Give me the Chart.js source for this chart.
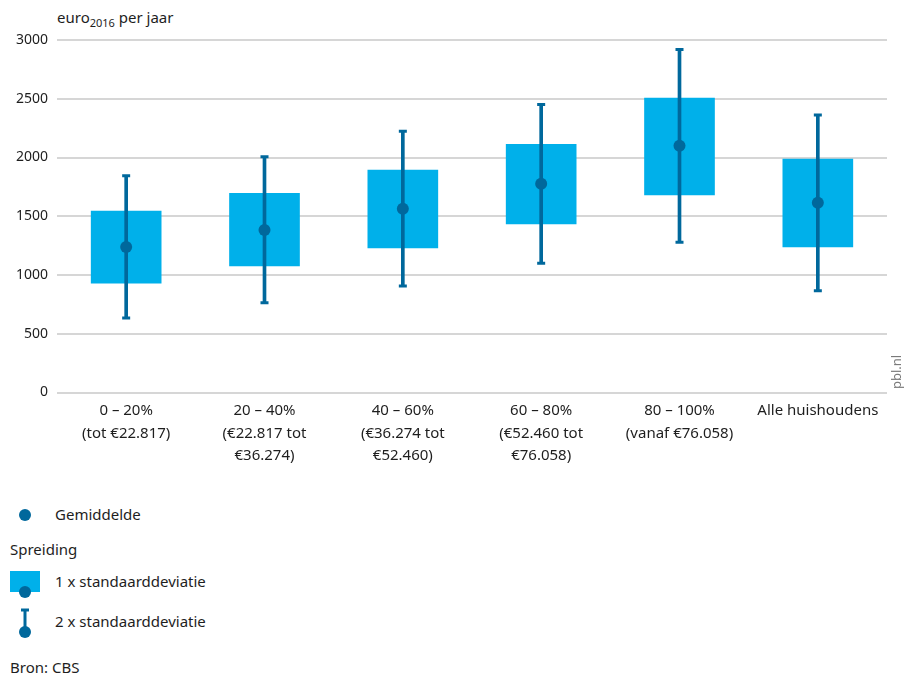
<!DOCTYPE html>
<html lang="nl">
<head>
<meta charset="utf-8">
<title>Energierekening per inkomensgroep</title>
<script src="https://cdn.jsdelivr.net/npm/chart.js@4/dist/chart.umd.min.js"></script>
<style>
  html, body { margin: 0; padding: 0; background: #fff; }
  body { width: 906px; height: 675px; position: relative; overflow: hidden;
         font-family: "Noto Sans", sans-serif; color: #1e1e1e; }
  #wrap { position: absolute; left: 0; top: 0; width: 906px; height: 470px; }
  .txt { position: absolute; font-size: 15px; line-height: 20px; white-space: nowrap; }
  #unit { left: 57px; top: 7px; }
  #unit sub { font-size: 11px; vertical-align: -4px; line-height: 0; }
  #src { position: absolute; left: 887px; top: 389px; font-size: 13px; line-height: 18px; color: #7a7a7a;
         transform: rotate(-90deg); transform-origin: 0 0; white-space: nowrap; }
  svg.icon { position: absolute; left: 0; }
</style>
</head>
<body>
<div id="unit" class="txt">euro<sub>2016</sub> per jaar</div>
<div id="wrap"><canvas id="chart"></canvas></div>
<div id="src">pbl.nl</div>
<div id="legend"></div>

<script>
// Categories (multi-line labels)
const categories = [
  ['0 – 20%', '(tot €22.817)'],
  ['20 – 40%', '(€22.817 tot', '€36.274)'],
  ['40 – 60%', '(€36.274 tot', '€52.460)'],
  ['60 – 80%', '(€52.460 tot', '€76.058)'],
  ['80 – 100%', '(vanaf €76.058)'],
  ['Alle huishoudens']
];

// Gemiddelde
const meanValues = [1239, 1383, 1563, 1776, 2099, 1614];
// 1 x standaarddeviatie (box)
const sd1Low  = [931, 1077, 1230, 1435, 1682, 1239];
const sd1High = [1543, 1696, 1892, 2113, 2506, 1986];
// 2 x standaarddeviatie (whisker)
const sd2Low  = [633, 764, 906, 1099, 1278, 867];
const sd2High = [1844, 2006, 2224, 2452, 2920, 2361];

const yTicks = [0, 500, 1000, 1500, 2000, 2500, 3000];

const legendLabels = ['Gemiddelde', 'Spreiding', '1 x standaarddeviatie', '2 x standaarddeviatie'];
const sourceText = 'Bron: CBS';

const LIGHT = '#00b0ea';
const DARK = '#00689c';
const FONT = '"Noto Sans", sans-serif';

const zip = (a, b) => a.map((v, i) => [v, b[i]]);

new Chart(document.getElementById('chart'), {
  type: 'bar',
  data: {
    labels: categories,
    datasets: [
      {
        type: 'line', label: legendLabels[0], data: meanValues, order: 0,
        showLine: false, pointStyle: 'circle', pointRadius: 6,
        pointBackgroundColor: DARK, pointBorderColor: DARK, pointBorderWidth: 0
      },
      {
        type: 'line', label: 'cap hoog', data: sd2High, order: 1,
        showLine: false, pointStyle: 'line', pointRadius: 4,
        pointBorderColor: DARK, pointBorderWidth: 3
      },
      {
        type: 'line', label: 'cap laag', data: sd2Low, order: 1,
        showLine: false, pointStyle: 'line', pointRadius: 4,
        pointBorderColor: DARK, pointBorderWidth: 3
      },
      {
        label: legendLabels[3], data: zip(sd2Low, sd2High), order: 2,
        grouped: false, barThickness: 3, backgroundColor: DARK, borderWidth: 0
      },
      {
        label: legendLabels[2], data: zip(sd1Low, sd1High), order: 3,
        grouped: false, barThickness: 70, backgroundColor: LIGHT, borderWidth: 0
      }
    ]
  },
  options: {
    responsive: true,
    maintainAspectRatio: false,
    animation: false,
    layout: { padding: { top: 40, right: 19, bottom: 4, left: 0 } },
    plugins: { legend: { display: false }, tooltip: { enabled: false } },
    scales: {
      x: {
        offset: true,
        grid: { display: false },
        border: { display: false },
        ticks: {
          padding: -1, color: '#1e1e1e', maxRotation: 0, autoSkip: false,
          font: { family: FONT, size: 15, lineHeight: 1.5 }
        }
      },
      y: {
        min: 0, max: 3000,
        afterFit: s => { s.width = 57; },
        afterBuildTicks: s => { s.ticks = yTicks.map(v => ({ value: v })); },
        border: { display: false },
        grid: { color: '#d6d6d6', lineWidth: 2, drawTicks: false },
        ticks: {
          padding: 9, color: '#1e1e1e',
          font: { family: FONT, size: 14 },
          callback: v => String(v)
        }
      }
    }
  }
});

// Legend (HTML) below the chart
const legend = document.getElementById('legend');
const addText = (text, left, top) => {
  const d = document.createElement('div');
  d.className = 'txt';
  d.style.left = left + 'px';
  d.style.top = top + 'px';
  d.textContent = text;
  legend.appendChild(d);
};
const addIcon = (top, height, inner) => {
  legend.insertAdjacentHTML('beforeend',
    `<svg class="icon" style="top:${top}px" width="50" height="${height}">${inner}</svg>`);
};

addIcon(505, 20, `<circle cx="25" cy="10" r="6" fill="${DARK}"/>`);
addText(legendLabels[0], 55, 504);
addText(legendLabels[1], 10, 539);
addIcon(568, 32, `<rect x="10" y="3" width="30" height="21" fill="${LIGHT}"/><circle cx="25" cy="24" r="6" fill="${DARK}"/>`);
addText(legendLabels[2], 55, 571);
addIcon(605, 36, `<line x1="25" y1="5" x2="25" y2="27" stroke="${DARK}" stroke-width="3"/><line x1="21" y1="5" x2="29" y2="5" stroke="${DARK}" stroke-width="3"/><circle cx="25" cy="27" r="6" fill="${DARK}"/>`);
addText(legendLabels[3], 55, 611);
addText(sourceText, 10, 657);
</script>
</body>
</html>
